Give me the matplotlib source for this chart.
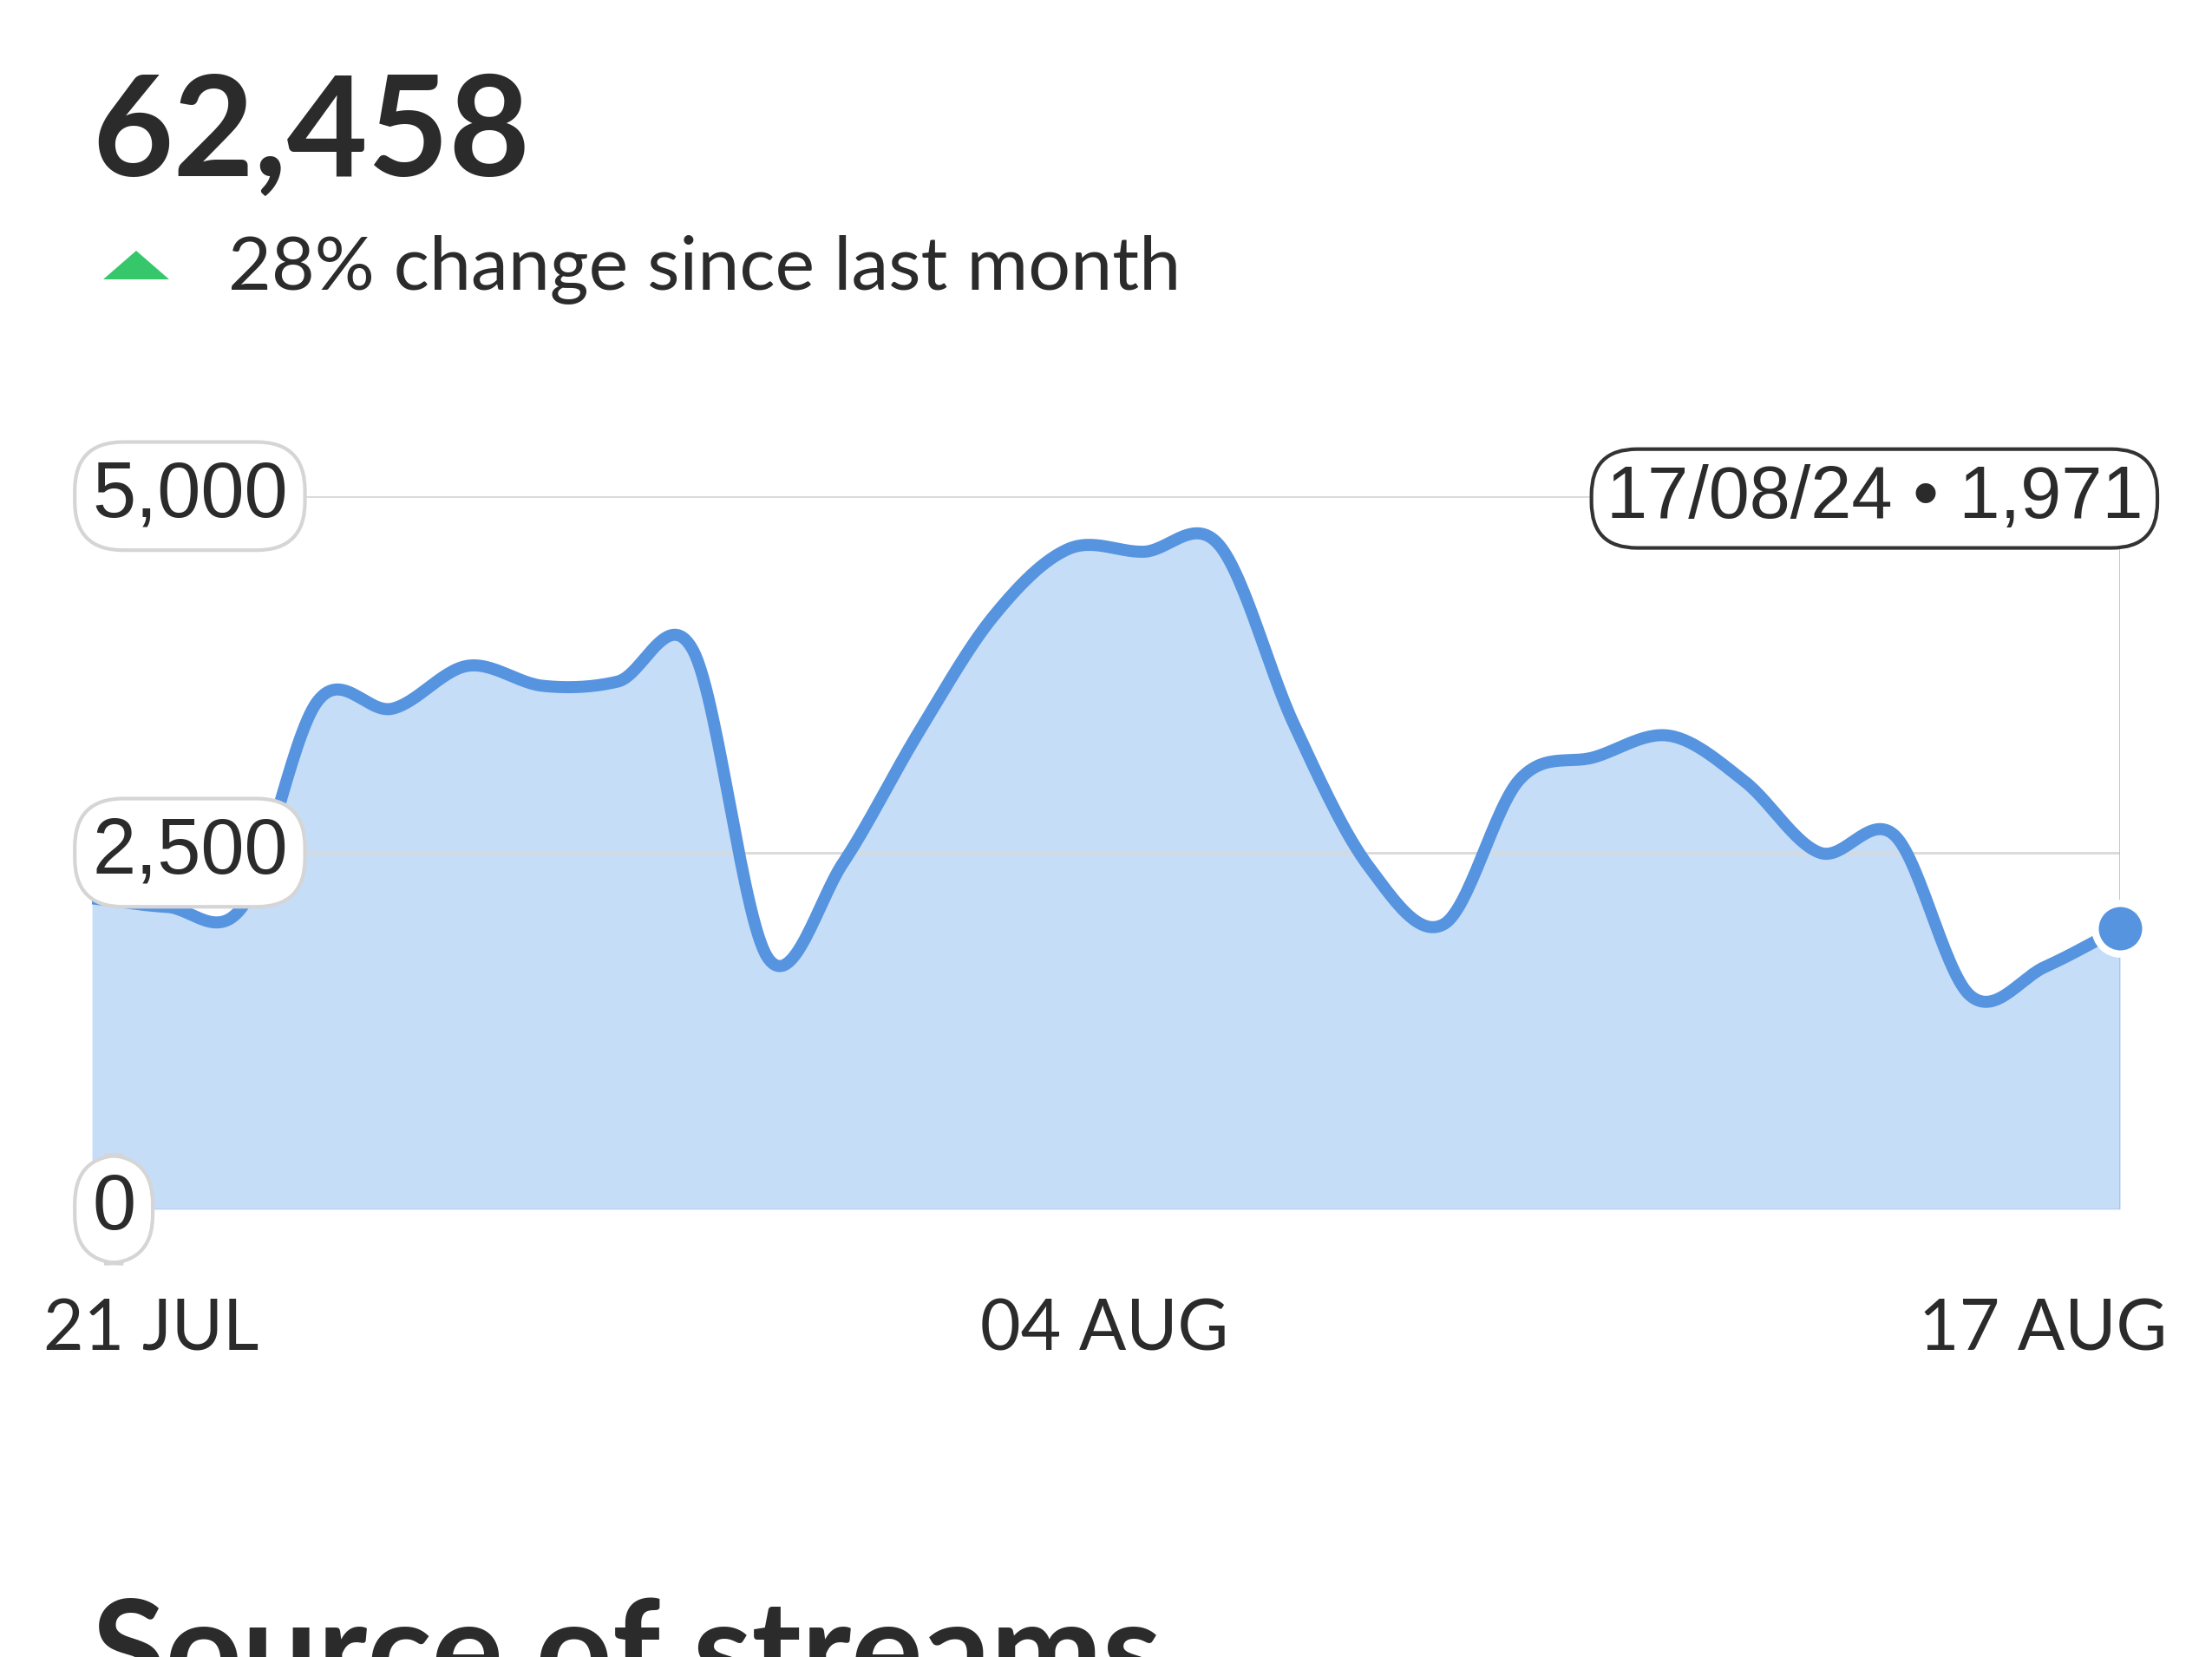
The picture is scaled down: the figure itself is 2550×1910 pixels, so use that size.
import numpy as np
import matplotlib
matplotlib.use("Agg")
import matplotlib.pyplot as plt
import matplotlib.transforms as mtransforms
from matplotlib.patches import Polygon

#---------------------------------------#
# DATA
#---------------------------------------#
# daily streams, 21 Jul 2024 -> 17 Aug 2024
dates = np.arange(np.datetime64("2024-07-21"), np.datetime64("2024-08-18"))
streams = [2180, 2120, 2120, 3560, 3510, 3810, 3670, 3700, 3920, 1760,
           2430, 3340, 4157, 4630, 4610, 4660, 3400, 2400, 2000, 3010,
           3170, 3320, 3000, 2500, 2620, 1500, 1700, 1971]
y_ticks = [0, 2500, 5000]
y_tick_labels = ["0", "2,500", "5,000"]
x_tick_dates = ["2024-07-21", "2024-08-04", "2024-08-17"]
x_tick_labels = ["21 JUL", "04 AUG", "17 AUG"]
total_streams = "62,458"
change_text = "28% change since last month"
tooltip_text = "17/08/24 \u2022 1,971"

#---------------------------------------#
# STYLE
#---------------------------------------#
LINE_COLOR = "#5694e0"
FILL_COLOR = "#c6ddf8"
TEXT_COLOR = "#2b2b2b"
GREEN = "#35c76a"
HEAD_FONT = ["Lato", "DejaVu Sans"]
PILL_FONT = ["Liberation Sans", "DejaVu Sans"]


"""
smooth curve through the points (uniform catmull-rom), like the app draws it
"""
def catmull_rom(x, y, steps=30):
    y = np.asarray(y, dtype=float)
    n = len(y)
    m = np.zeros(n)
    m[1:-1] = (y[2:] - y[:-2]) / 2
    m[0] = y[1] - y[0]
    m[-1] = y[-1] - y[-2]
    t = np.linspace(0, 1, steps, endpoint=False)
    h00 = 2 * t**3 - 3 * t**2 + 1
    h10 = t**3 - 2 * t**2 + t
    h01 = -2 * t**3 + 3 * t**2
    h11 = t**3 - t**2
    xs, ys = [], []
    for i in range(n - 1):
        xs.append(x[i] + t * (x[i + 1] - x[i]))
        ys.append(h00 * y[i] + h10 * m[i] + h01 * y[i + 1] + h11 * m[i + 1])
    xs.append([x[-1]])
    ys.append([y[-1]])
    return np.concatenate(xs), np.concatenate(ys)


fig = plt.figure(figsize=(25.5, 19.1), dpi=100)
ax = fig.add_axes([0.0416, 0.2702, 0.9169, 0.4304])

x = matplotlib.dates.date2num(dates)
xs, ys = catmull_rom(x, streams)

ax.set_xlim(x[0], x[-1])
ax.set_ylim(0, 5000)
for s in ax.spines.values():
    s.set_visible(False)

# grid lines
for v in y_ticks:
    col = "#b8cdee" if v == 0 else "#d9d9d9"
    ax.axhline(v, color=col, lw=2, zorder=2)

ax.fill_between(xs, ys, 0, color=FILL_COLOR, lw=0, zorder=1)
ax.plot(xs, ys, color=LINE_COLOR, lw=10, solid_capstyle="round",
        solid_joinstyle="round", zorder=4)

# hover line + marker on last point
ax.plot([x[-1], x[-1]], [0, 5000], color="#a9c3e6", lw=2, zorder=3)
ax.plot(x[-1], streams[-1], "o", ms=42, color=LINE_COLOR, mec="white",
        mew=6, zorder=7, clip_on=False)

# tooltip pill
ax.annotate(tooltip_text, xy=(x[-1], 5000), xytext=(-204, -2),
            textcoords="offset points", ha="center", va="center",
            fontsize=61, family=PILL_FONT, color=TEXT_COLOR, zorder=8,
            bbox=dict(boxstyle="round,pad=0.2,rounding_size=0.62",
                      fc="white", ec="#333333", lw=3))

# y labels as pills
ylab_tr = mtransforms.blended_transform_factory(ax.transAxes, ax.transData)
for v, lab in zip(y_ticks, y_tick_labels):
    ax.text(0.0, v, lab, transform=ylab_tr, ha="left", va="center",
            fontsize=65, family=PILL_FONT, color=TEXT_COLOR, zorder=9,
            bbox=dict(boxstyle="round,pad=0.22,rounding_size=0.62",
                      fc="white", ec="#d5d5d5", lw=3))

# x tick labels
ax.set_yticks([])
ax.set_xticks(matplotlib.dates.date2num(np.array(x_tick_dates, dtype="datetime64[D]")))
ax.set_xticklabels(x_tick_labels, fontsize=58, family=HEAD_FONT, color=TEXT_COLOR)
ax.tick_params(axis="x", length=0, pad=74)
shifts = [68, -45, -89]
for lbl, dx in zip(ax.get_xticklabels(), shifts):
    lbl.set_transform(lbl.get_transform() +
                      mtransforms.ScaledTranslation(dx / 100, 0, fig.dpi_scale_trans))

# header
fig.text(106 / 2550, 1 - 203 / 1910, total_streams, fontsize=116,
         fontweight="bold", family=HEAD_FONT, color=TEXT_COLOR, va="baseline")
fig.text(263 / 2550, 1 - 333 / 1910, change_text, fontsize=62,
         family=HEAD_FONT, color=TEXT_COLOR, va="baseline")
tri = Polygon([[119 / 2550, 1 - 322 / 1910], [195 / 2550, 1 - 322 / 1910],
               [157 / 2550, 1 - 289 / 1910]], closed=True,
              transform=fig.transFigure, fc=GREEN, ec="none")
fig.patches.append(tri)

# next section heading (cut by the bottom edge, as in the app screenshot)
fig.text(106 / 2550, 1 - 1955 / 1910, "Source of streams", fontsize=111,
         fontweight="bold", family=HEAD_FONT, color=TEXT_COLOR, va="baseline")

fig.savefig("out.png", dpi=100, facecolor="white")
